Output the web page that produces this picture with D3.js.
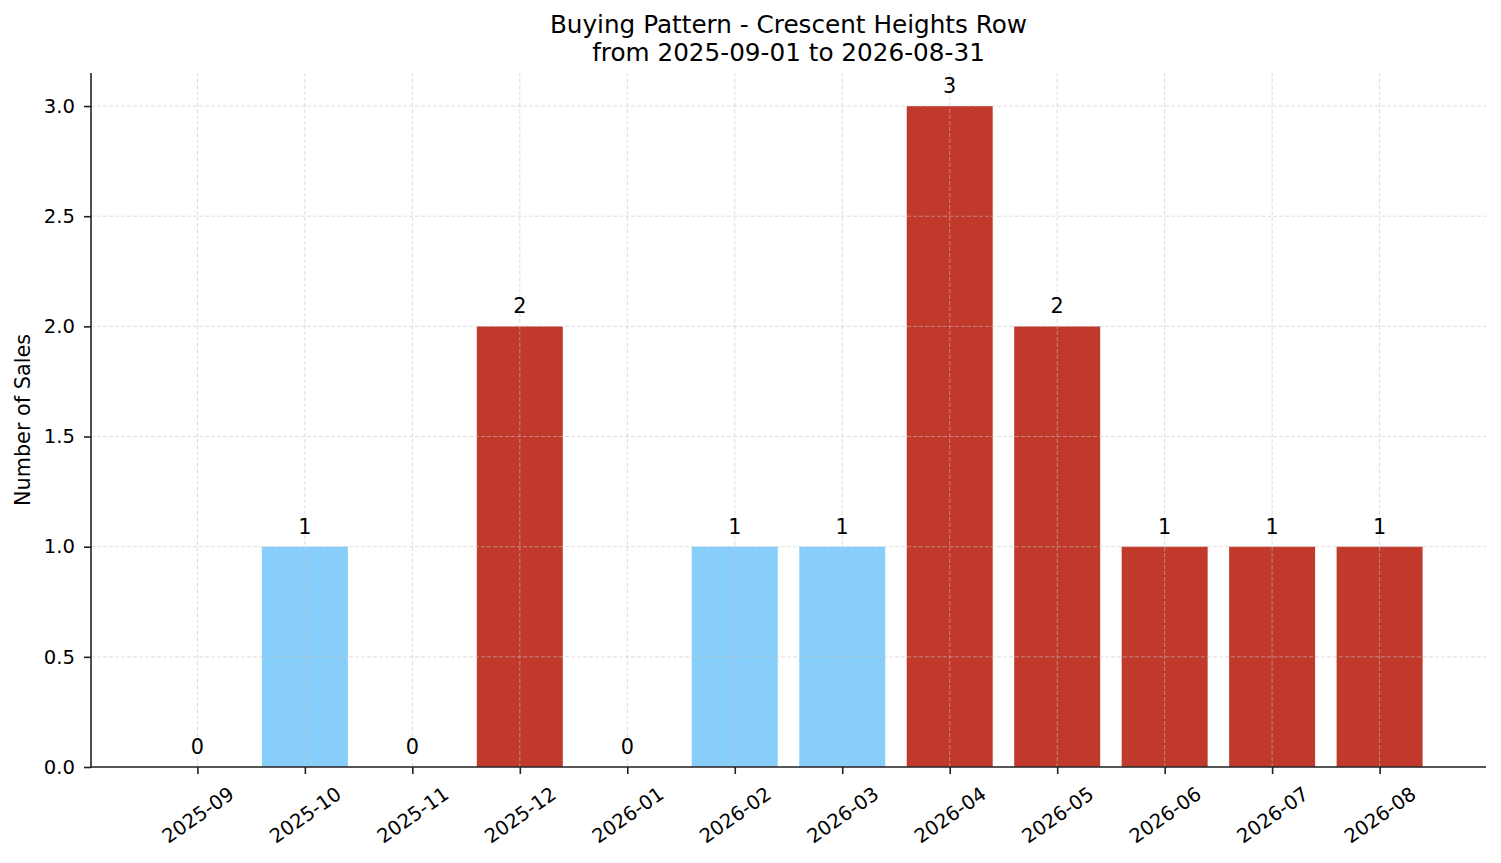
<!DOCTYPE html>
<html>
<head>
<meta charset="utf-8">
<script src="https://cdn.jsdelivr.net/npm/d3@7"></script>
<style>
  html, body { margin: 0; padding: 0; background: #fff; }
  svg { display: block; font-family: "DejaVu Sans", sans-serif; }
</style>
</head>
<body>
<svg id="chart" width="1501" height="863"></svg>
<script>
// ---- data ----
const months = ["2025-09","2025-10","2025-11","2025-12","2026-01","2026-02","2026-03","2026-04","2026-05","2026-06","2026-07","2026-08"];
const sales  = [0, 1, 0, 2, 0, 1, 1, 3, 2, 1, 1, 1];
const barColors = ["#C0392B","#87CEFA","#C0392B","#C0392B","#C0392B","#87CEFA","#87CEFA","#C0392B","#C0392B","#C0392B","#C0392B","#C0392B"];
const yTicks = [0, 0.5, 1.0, 1.5, 2.0, 2.5, 3.0];
const titleLines = ["Buying Pattern - Crescent Heights Row", "from 2025-09-01 to 2026-08-31"];
const yLabel = "Number of Sales";

// ---- layout ----
const svg = d3.select("#chart");
const L = 91, R = 1486, T = 73, B = 767;
const barW = 0.8;
const n = months.length;
const x = d3.scaleLinear().domain([-0.99, n - 1 + 0.99]).range([L, R]);
const y = d3.scaleLinear().domain([0, 3.15]).range([B, T]);
const tickFont = 19.6;

// bars
svg.append("g").selectAll("rect").data(sales).join("rect")
  .attr("x", (d, i) => x(i - barW / 2))
  .attr("width", (d, i) => x(i + barW / 2) - x(i - barW / 2))
  .attr("y", d => y(d))
  .attr("height", d => y(0) - y(d))
  .attr("fill", (d, i) => barColors[i]);

// grid (over bars, like matplotlib)
const grid = svg.append("g").attr("stroke", "#c4c4c4").attr("stroke-opacity", 0.7)
  .attr("stroke-width", 0.8).attr("stroke-dasharray", "4,2");
grid.selectAll("line.v").data(months).join("line").attr("class", "v")
  .attr("x1", (d, i) => x(i)).attr("x2", (d, i) => x(i))
  .attr("y1", T).attr("y2", B);
grid.selectAll("line.h").data(yTicks).join("line").attr("class", "h")
  .attr("x1", L).attr("x2", R)
  .attr("y1", d => y(d)).attr("y2", d => y(d));

// axes
const yAxis = d3.axisLeft(y).tickValues(yTicks).tickFormat(d3.format(".1f")).tickSize(7).tickPadding(9);
const gy = svg.append("g").attr("transform", `translate(${L},0)`).call(yAxis);
gy.select(".domain").remove();
gy.selectAll(".tick line").attr("stroke", "#222").attr("stroke-width", 1.6);
gy.selectAll(".tick text").attr("font-size", tickFont).attr("fill", "#000")
  .attr("font-family", "DejaVu Sans");

const xAxis = d3.axisBottom(x).tickValues(d3.range(n)).tickFormat(i => months[i]).tickSize(7).tickPadding(6);
const gx = svg.append("g").attr("transform", `translate(0,${B})`).call(xAxis);
gx.select(".domain").remove();
gx.selectAll(".tick line").attr("stroke", "#222").attr("stroke-width", 1.6);
const ang = 35 * Math.PI / 180;
gx.selectAll(".tick text")
  .attr("font-size", tickFont).attr("fill", "#000").attr("font-family", "DejaVu Sans")
  .attr("text-anchor", "middle").attr("dy", null)
  .each(function () {
    const t = d3.select(this);
    const w = this.getComputedTextLength();
    const h = tickFont * 1.0;
    const H = w * Math.sin(ang) + h * Math.cos(ang);
    const cy = 16.5 + H / 2;
    t.attr("y", cy).attr("dy", "0.35em")
     .attr("transform", `rotate(-35,0,${cy})`);
  });

// spines
svg.append("line").attr("x1", L).attr("x2", L).attr("y1", T).attr("y2", B + 0.8)
  .attr("stroke", "#222").attr("stroke-width", 1.6);
svg.append("line").attr("x1", L - 0.8).attr("x2", R).attr("y1", B).attr("y2", B)
  .attr("stroke", "#222").attr("stroke-width", 1.6);

// value labels
svg.append("g").selectAll("text").data(sales).join("text")
  .attr("x", (d, i) => x(i))
  .attr("y", d => y(d) - 13)
  .attr("text-anchor", "middle")
  .attr("font-size", 20.8)
  .attr("fill", "#000")
  .text(d => d);

// title
svg.append("g").selectAll("text").data(titleLines).join("text")
  .attr("x", (L + R) / 2)
  .attr("y", (d, i) => 33.3 + i * 28)
  .attr("text-anchor", "middle")
  .attr("font-size", 24.7)
  .attr("fill", "#000")
  .text(d => d);

// y label
svg.append("text")
  .attr("transform", `translate(30,${(T + B) / 2}) rotate(-90)`)
  .attr("text-anchor", "middle")
  .attr("font-size", 20.8)
  .attr("fill", "#000")
  .text(yLabel);
</script>
</body>
</html>
